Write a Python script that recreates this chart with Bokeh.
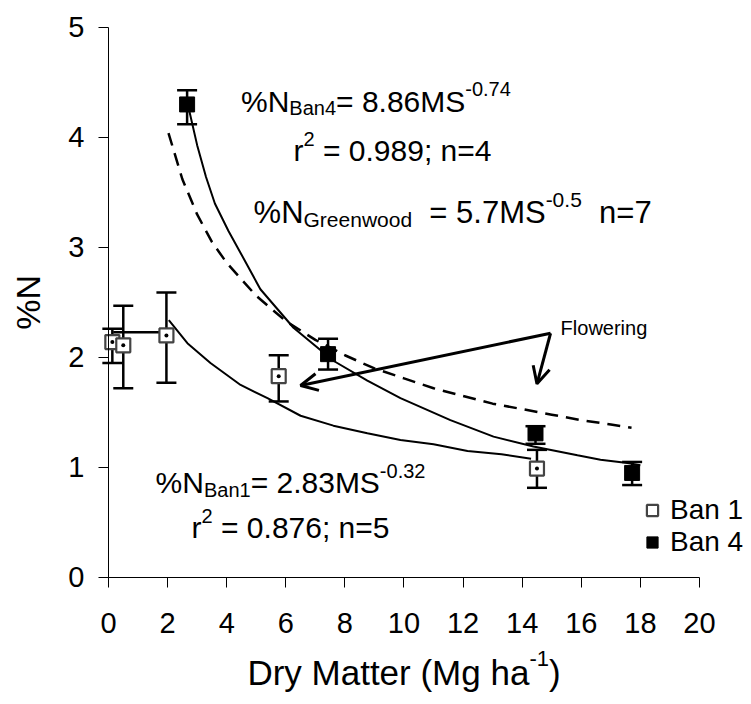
import math
from bokeh.plotting import figure
from bokeh.models import (Range1d, ColumnDataSource, Whisker, TeeHead, Arrow, OpenHead,
                          Label, Legend, LegendItem, FixedTicker)
from bokeh.embed import file_html
from bokeh.resources import INLINE

FONT = "Liberation Sans"

# ---------------- data ----------------
ban1_x = [0.13, 0.50, 1.96, 5.76, 14.50]
ban1_y = [2.14, 2.11, 2.20, 1.83, 0.99]
ban1_lo = [1.95, 1.72, 1.77, 1.60, 0.815]
ban1_hi = [2.26, 2.47, 2.59, 2.02, 1.16]

ban4_x = [2.66, 7.43, 14.45, 17.72]
ban4_y = [4.30, 2.03, 1.31, 0.95]
ban4_lo = [4.12, 1.89, 1.215, 0.84]
ban4_hi = [4.43, 2.17, 1.375, 1.05]

# horizontal bar joining the first Ban 1 values
ban1_bar_x = [0.16, 1.93]
ban1_bar_y = [2.23, 2.23]

# fitted curves
fit4_x = [2.71, 3.0, 3.3, 3.6, 4.06, 4.47, 5.14, 6.26, 7.61, 8.76, 9.88, 11.57, 13.03, 14.38, 15.87, 16.65, 17.56, 18.0]
fit4_y = [4.27, 3.93, 3.64, 3.40, 3.15, 2.95, 2.62, 2.27, 1.97, 1.79, 1.63, 1.43, 1.28, 1.19, 1.11, 1.07, 1.04, 1.02]

fit1_x = [2.04, 2.67, 3.45, 4.47, 5.38, 6.50, 7.61, 8.76, 9.88, 11.0, 12.15, 13.3, 14.3]
fit1_y = [2.34, 2.13, 1.95, 1.75, 1.63, 1.47, 1.38, 1.31, 1.25, 1.21, 1.15, 1.12, 1.08]

green_x = [2.03, 2.5, 3.0, 3.5, 4.0, 5.0, 6.0, 7.0, 8.0, 9.0, 10.0, 11.0, 12.0, 13.0, 14.0, 15.0, 16.0, 17.0, 17.7]
green_y = [4.04, 3.62, 3.30, 3.05, 2.86, 2.56, 2.33, 2.16, 2.02, 1.90, 1.81, 1.72, 1.65, 1.58, 1.53, 1.48, 1.43, 1.39, 1.36]

# "Flowering" arrows: common tail, two heads
flow_tail = (14.96, 2.22)
flow_heads_x = [6.50, 14.50]
flow_heads_y = [1.745, 1.76]

x_ticks = [0, 2, 4, 6, 8, 10, 12, 14, 16, 18, 20]
y_ticks = [0, 1, 2, 3, 4, 5]

# ---------------- figure ----------------
# the frame covers the whole page; both axes are pinned at 0
p = figure(width=751, height=704, title=None,
           x_range=Range1d(-3.655, 21.76), y_range=Range1d(-1.155, 5.245),
           output_backend="svg", toolbar_location=None,
           min_border_left=0, min_border_right=0,
           min_border_top=0, min_border_bottom=0)
p.outline_line_color = None
p.grid.visible = False
p.background_fill_color = "white"
p.border_fill_color = "white"

for ax in (p.xaxis[0], p.yaxis[0]):
    ax.major_label_text_font = FONT
    ax.major_label_text_font_size = "29px"
    ax.major_label_text_color = "black"
    ax.axis_line_color = "black"
    ax.axis_line_width = 1
    ax.major_tick_line_color = "black"
    ax.major_tick_out = 10
    ax.major_tick_in = 0
    ax.minor_tick_line_color = None

p.xaxis.ticker = FixedTicker(ticks=x_ticks)
p.yaxis.ticker = FixedTicker(ticks=y_ticks)
p.xaxis.fixed_location = 0
p.yaxis.fixed_location = 0
p.xaxis.bounds = (0, 20)
p.yaxis.bounds = (0, 5)
p.xaxis.major_label_standoff = 26
p.yaxis.major_label_standoff = 14

# y axis title
p.add_layout(Label(x=-2.72, y=2.5, text="%N", angle=math.pi / 2, text_font=FONT,
                   text_font_size="34px", text_color="black", text_align="center",
                   text_baseline="middle"))

# curves
p.line(fit4_x, fit4_y, line_color="black", line_width=2)
p.line(fit1_x, fit1_y, line_color="black", line_width=2)
p.line(green_x, green_y, line_color="black", line_width=2.5, line_dash="13 8")
p.line(ban1_bar_x, ban1_bar_y, line_color="black", line_width=2.5)

# error bars
s1 = ColumnDataSource(dict(x=ban1_x, y=ban1_y, lo=ban1_lo, hi=ban1_hi))
s4 = ColumnDataSource(dict(x=ban4_x, y=ban4_y, lo=ban4_lo, hi=ban4_hi))
for src in (s1, s4):
    p.add_layout(Whisker(source=src, base="x", lower="lo", upper="hi", dimension="height",
                         line_color="black", line_width=2.5,
                         lower_head=TeeHead(size=20, line_width=2.5, line_color="black"),
                         upper_head=TeeHead(size=20, line_width=2.5, line_color="black")))

r1 = p.scatter("x", "y", source=s1, marker="square", size=14, fill_color="white",
               line_color="#444444", line_width=2.2)
p.scatter("x", "y", source=s1, marker="circle", size=4, fill_color="black", line_color=None)
r4 = p.scatter("x", "y", source=s4, marker="square", size=15, fill_color="black",
               line_color="black")

# arrows
for hx, hy in zip(flow_heads_x, flow_heads_y):
    p.add_layout(Arrow(x_start=flow_tail[0], y_start=flow_tail[1], x_end=hx, y_end=hy,
                       line_width=3, line_color="black",
                       end=OpenHead(size=17, line_width=3, line_color="black")))

p.add_layout(Label(x=15.3, y=2.27, text="Flowering", text_font=FONT, text_font_size="20px",
                   text_color="black", text_baseline="alphabetic"))

# -------- rich text helper (Arial / Liberation Sans metrics) --------
W = {'%': .889, 'N': .722, 'B': .667, 'a': .556, 'n': .556, '=': .584, ' ': .278, '.': .278,
     'M': .833, 'S': .667, '-': .333, 'r': .333, ';': .278, 'G': .778, 'e': .556, 'o': .556,
     'w': .722, 'd': .556, 'D': .722, 'y': .5, 't': .278, '(': .333, ')': .333, 'g': .556,
     'h': .556}


def tw(s, size):
    return sum(W.get(c, .556) for c in s) * size


def rich(x, y, pieces, size, small, anchor="left", sub_dy=-7, sup_dy=12):
    widths = [tw(t, small if k != 'n' else size) for t, k in pieces]
    off = -sum(widths) / 2 if anchor == "center" else 0
    for (t, k), w in zip(pieces, widths):
        fs = size if k == 'n' else small
        dy = {'n': 0, 'sub': sub_dy, 'sup': sup_dy}[k]
        stripped = t.lstrip(' ')
        lead = tw(t[:len(t) - len(stripped)], fs)
        p.add_layout(Label(x=x, y=y, x_offset=off + lead, y_offset=dy, text=stripped,
                           text_font=FONT, text_font_size=f"{fs}px", text_color="black",
                           text_baseline="alphabetic", text_align="left"))
        off += w


F, f = 30, 20
rich(9.05, 4.33, [("%N", 'n'), ("Ban4", 'sub'), ("= 8.86MS", 'n'), ("-0.74", 'sup')], F, f, "center")
rich(9.61, 3.88, [("r", 'n'), ("2", 'sup'), (" = 0.989; n=4", 'n')], F, f, "center")
rich(4.91, 3.32, [("%N", 'n'), ("Greenwood", 'sub'), ("  = 5.7MS", 'n'), ("-0.5", 'sup'), ("  n=7", 'n')], 31, 21)
rich(6.16, 0.86, [("%N", 'n'), ("Ban1", 'sub'), ("= 2.83MS", 'n'), ("-0.32", 'sup')], F, f, "center")
rich(6.16, 0.45, [("r", 'n'), ("2", 'sup'), (" = 0.876; n=5", 'n')], F, f, "center")

# x axis title with superscript
rich(10.0, -0.86, [("Dry Matter (Mg ha", 'n'), ("-1", 'sup'), (")", 'n')], 35, 22, "center", sup_dy=14)

# legend
legend = Legend(items=[LegendItem(label="Ban 1", renderers=[r1]),
                       LegendItem(label="Ban 4", renderers=[r4])],
                location=(637, 146), orientation="vertical",
                background_fill_alpha=0, border_line_color=None,
                label_text_font=FONT, label_text_font_size="28px", label_text_color="black",
                glyph_width=30, glyph_height=28, label_standoff=3, spacing=0, padding=0, margin=0)
p.add_layout(legend)

open("out.html", "w").write(file_html(p, INLINE))
